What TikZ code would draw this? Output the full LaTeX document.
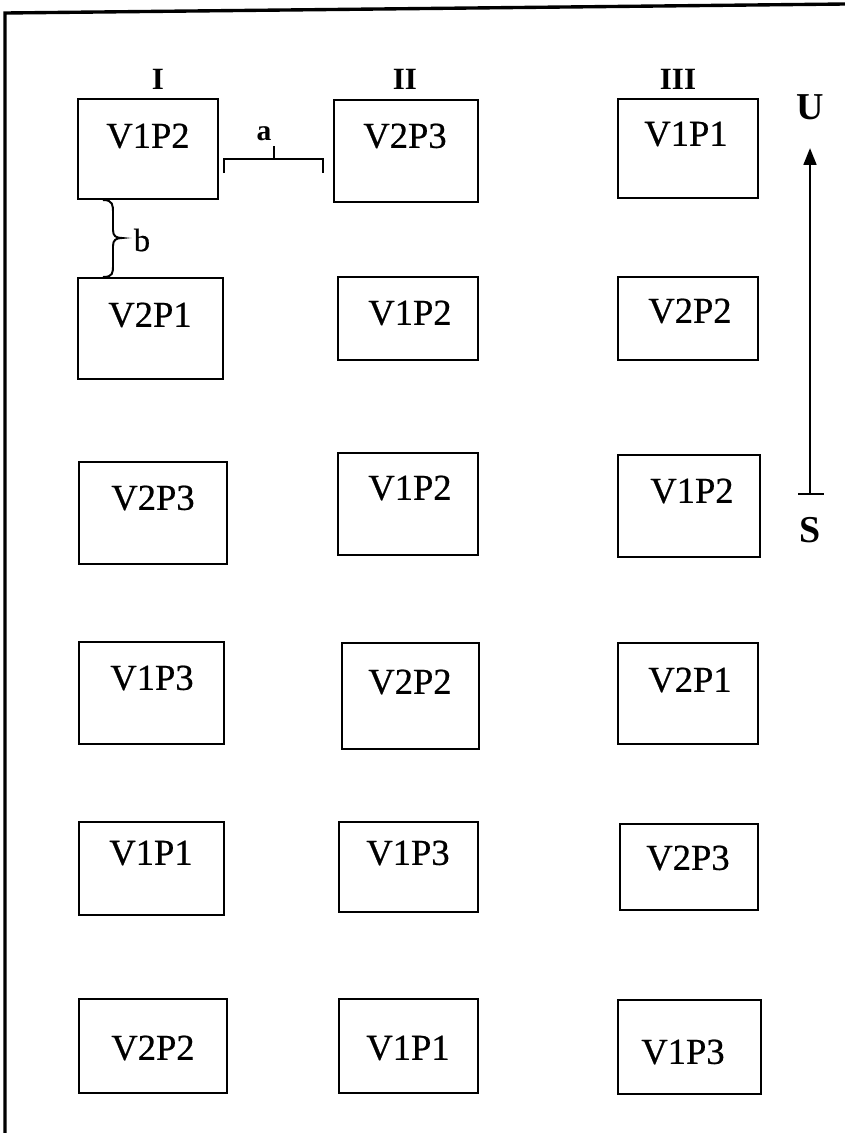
\documentclass[tikz,border=0pt]{standalone}
\usepackage{fontspec}
\setmainfont{Liberation Serif}
\newfontfamily\plotfont[FakeBold=0.6]{Liberation Serif}
\usetikzlibrary{arrows.meta}

\begin{document}
\begin{tikzpicture}[x=0.025cm, y=-0.025cm,
    plotbox/.style={draw, line width=1.9pt, inner sep=0pt},
    plotname/.style={font=\plotfont\fontsize{26}{30}\selectfont, inner sep=0pt},
    colname/.style={font=\bfseries\fontsize{22}{24}\selectfont, inner sep=0pt},
    dirname/.style={font=\bfseries\fontsize{27}{30}\selectfont, inner sep=0pt}]
    \useasboundingbox (0,0) rectangle (845,1133);

    % frame (top and left only)
    \draw[line width=2.4pt] (5,1133) -- (5,13) -- (845,4);

    % plots: name/x1/y1/x2/y2/variant/label x/label y
    \foreach \n/\xa/\ya/\xb/\yb/\v/\tx/\ty in {
        a1/78/99/218/199/V1P2/148/136,   b1/334/100/478/202/V2P3/405/136,  c1/618/99/758/198/V1P1/686/134,
        a2/78/278/223/379/V2P1/150/315,  b2/338/277/478/360/V1P2/410/313,  c2/618/277/758/360/V2P2/690/311,
        a3/79/462/227/564/V2P3/153/498,  b3/338/453/478/555/V1P2/410/488,  c3/618/455/760/557/V1P2/692/491,
        a4/79/642/224/744/V1P3/152/678,  b4/342/643/479/749/V2P2/410/682,  c4/618/643/758/744/V2P1/690/680,
        a5/79/822/224/915/V1P1/151/853,  b5/339/822/478/912/V1P3/408/853,  c5/620/824/758/910/V2P3/688/858,
        a6/79/999/227/1093/V2P2/153/1048, b6/339/999/478/1093/V1P1/408/1048, c6/618/1000/761/1094/V1P3/683/1052} {
        \node[plotbox, minimum width={(\xb-\xa)*0.025cm}, minimum height={(\yb-\ya)*0.025cm}]
            (\n) at ({(\xa+\xb)/2},{(\ya+\yb)/2}) {};
        \node[plotname] (t\n) at (\tx,\ty) {\v};
    }

    % replications
    \foreach \r/\x in {I/158, II/405, III/678} {
        \node[colname] (h\r) at (\x,79) {\r};
    }

    % distance a between columns
    \coordinate (aL) at (224,173);
    \coordinate (aR) at (323,173);
    \coordinate (aM) at (274,159);
    \draw[line width=1.5pt] (aL) -- (224,159) -- (323,159) -- (aR);
    \draw[line width=1.5pt] (aM) -- (274,146);
    \node[font=\bfseries\fontsize{21}{23}\selectfont, inner sep=0pt] (la) at (264,134) {a};

    % distance b between rows
    \draw[line width=1.4pt] (103,200) .. controls (113,200) and (113,205) .. (113,213)
        -- (113,230) .. controls (113,236) and (116,238) .. (122,238)
        .. controls (116,238) and (113,240) .. (113,246)
        -- (113,265) .. controls (113,273) and (113,277) .. (103,277);
    \node[font=\plotfont\fontsize{23}{26}\selectfont, inner sep=0pt] (lb) at (142,240) {b};

    % slope direction
    \coordinate (S0) at (810,494);
    \coordinate (U0) at (810,148);
    \draw[line width=1.9pt, -{Triangle[length=12pt,width=9pt]}] (S0) -- (U0);
    \draw[line width=1.6pt] (798,494) -- (824,494);
    \node[dirname] (U) at (810,107) {U};
    \node[dirname] (S) at (810,530) {S};
\end{tikzpicture}
\end{document}
